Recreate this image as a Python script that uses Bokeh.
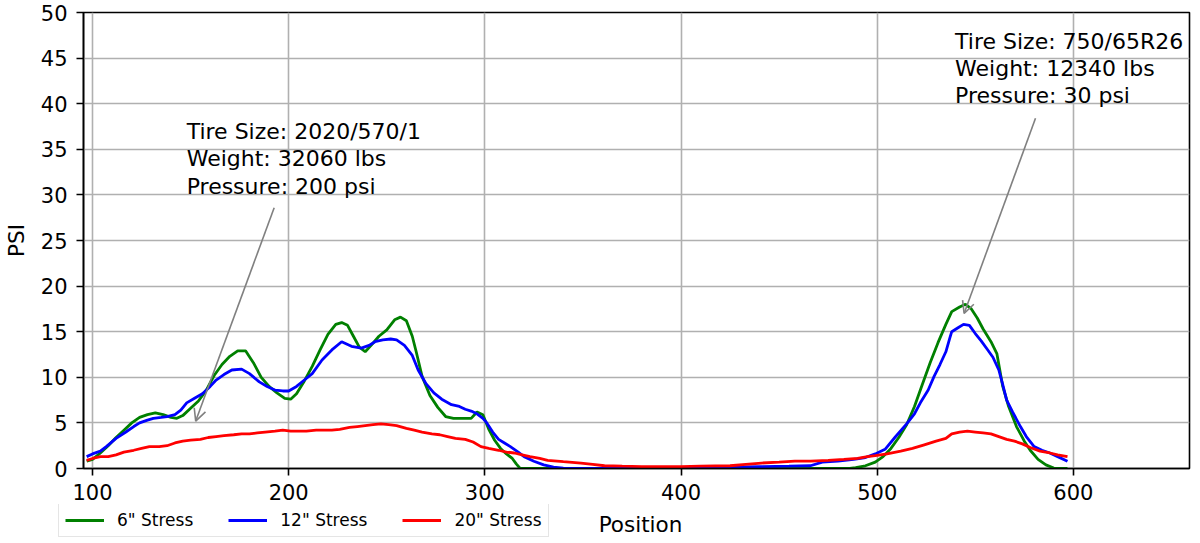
from bokeh.plotting import figure
from bokeh.models import ColumnDataSource, Legend, LegendItem, FixedTicker, Arrow, OpenHead, Range1d, Label
from bokeh.core.properties import value
from bokeh.embed import file_html
from bokeh.resources import INLINE

# ---- data ----
x6 = [97, 100, 104, 108, 112, 116, 120, 124, 128, 132, 136, 140, 143, 146, 150, 154, 158, 162, 166, 170,
      174, 178, 182, 186, 190, 194, 198, 201, 204, 208, 212, 216, 220, 224, 227, 230, 233, 236, 239, 242,
      246, 250, 254, 257, 260, 263, 265, 268, 272, 276, 280, 284, 288, 293, 296, 299, 302, 305, 308, 311,
      314, 316, 318, 330, 360, 400, 440, 470, 486, 489, 494, 499, 503, 507, 511, 515, 519, 523, 527, 531,
      535, 538, 542, 545, 548, 551, 554, 558, 561, 564, 567, 571, 575, 578, 582, 586, 590, 594, 597]
y6 = [0.8, 1.0, 1.7, 2.5, 3.4, 4.2, 5.0, 5.6, 5.9, 6.1, 5.9, 5.6, 5.5, 5.8, 6.6, 7.4, 8.6, 10.2, 11.4, 12.3,
      12.9, 12.9, 11.6, 10.0, 9.0, 8.3, 7.7, 7.6, 8.2, 9.6, 11.2, 13.0, 14.7, 15.8, 16.0, 15.7, 14.5, 13.3, 12.8, 13.5,
      14.5, 15.2, 16.3, 16.6, 16.2, 14.5, 12.8, 10.1, 8.0, 6.7, 5.7, 5.5, 5.5, 5.5, 6.2, 5.9, 4.3, 3.1, 2.2, 1.6,
      1.1, 0.5, 0.0, 0.0, 0.0, 0.0, 0.0, 0.0, 0.0, 0.1, 0.3, 0.7, 1.3, 2.2, 3.4, 4.8, 6.8, 9.2, 11.6, 13.8,
      15.8, 17.2, 17.7, 18.0, 17.5, 16.5, 15.3, 13.9, 12.6, 9.0, 6.8, 4.6, 3.0, 2.0, 1.0, 0.4, 0.05, 0.0, 0.0]

x12 = [97, 100, 104, 107, 112, 117, 121, 124, 128, 131, 135, 138, 142, 145, 148, 152, 156, 160, 163, 167,
       171, 176, 180, 185, 189, 193, 197, 200, 204, 208, 212, 217, 222, 227, 232, 237, 241, 244, 248, 252,
       255, 259, 263, 266, 270, 274, 278, 283, 287, 290, 293, 296, 299, 301, 304, 307, 310, 313, 317, 320,
       325, 330, 335, 340, 350, 380, 410, 425, 440, 455, 466, 472, 480, 488, 494, 499, 504, 509, 515, 519,
       522, 526, 529, 532, 535, 537, 538, 541, 544, 547, 550, 553, 556, 559, 562, 564, 566, 569, 573, 576,
       580, 584, 588, 592, 597]
y12 = [1.3, 1.6, 1.9, 2.4, 3.3, 4.0, 4.6, 5.0, 5.3, 5.5, 5.6, 5.7, 5.9, 6.4, 7.2, 7.7, 8.2, 9.0, 9.7, 10.3,
       10.8, 10.9, 10.4, 9.5, 9.0, 8.6, 8.5, 8.5, 9.0, 9.7, 10.4, 11.9, 13.0, 13.9, 13.4, 13.2, 13.5, 13.9, 14.1, 14.2,
       14.1, 13.5, 12.4, 10.8, 9.3, 8.3, 7.6, 7.0, 6.8, 6.5, 6.3, 6.0, 5.5, 5.0, 4.0, 3.2, 2.8, 2.4, 1.8, 1.3,
       0.8, 0.4, 0.15, 0.05, 0.0, 0.0, 0.05, 0.15, 0.2, 0.25, 0.3, 0.7, 0.8, 1.0, 1.2, 1.6, 2.1, 3.4, 4.9, 6.0,
       7.2, 8.6, 10.1, 11.4, 12.8, 14.3, 15.0, 15.4, 15.8, 15.7, 14.8, 14.0, 13.1, 12.2, 10.8, 9.2, 7.5, 6.2, 4.6, 3.5,
       2.4, 2.0, 1.7, 1.3, 0.8]

x20 = [97, 100, 104, 108, 112, 116, 121, 125, 129, 134, 138, 142, 146, 150, 155, 159, 163, 167, 172, 176,
       180, 184, 188, 193, 197, 201, 205, 209, 214, 218, 222, 226, 231, 235, 239, 243, 247, 251, 255, 260,
       264, 268, 273, 277, 281, 285, 290, 294, 298, 302, 307, 311, 315, 319, 323, 328, 332, 340, 349, 355,
       361, 370, 380, 391, 400, 410, 425, 433, 441, 450, 458, 466, 475, 483, 490, 495, 499, 505, 512, 518,
       524, 530, 535, 538, 542, 546, 550, 554, 558, 562, 566, 570, 574, 578, 583, 588, 592, 597]
y20 = [0.9, 1.1, 1.3, 1.3, 1.5, 1.8, 2.0, 2.2, 2.4, 2.4, 2.5, 2.8, 3.0, 3.1, 3.2, 3.4, 3.5, 3.6, 3.7, 3.8,
       3.8, 3.9, 4.0, 4.1, 4.2, 4.1, 4.1, 4.1, 4.2, 4.2, 4.2, 4.3, 4.5, 4.6, 4.7, 4.8, 4.9, 4.8, 4.7, 4.4,
       4.2, 4.0, 3.8, 3.7, 3.5, 3.3, 3.2, 2.9, 2.4, 2.2, 2.0, 1.8, 1.7, 1.5, 1.3, 1.1, 0.9, 0.75, 0.6, 0.45,
       0.3, 0.25, 0.2, 0.2, 0.2, 0.25, 0.3, 0.45, 0.6, 0.7, 0.8, 0.8, 0.9, 1.0, 1.1, 1.3, 1.4, 1.6, 1.9, 2.2,
       2.6, 3.0, 3.3, 3.8, 4.0, 4.1, 4.0, 3.9, 3.8, 3.5, 3.2, 3.0, 2.7, 2.3, 1.9, 1.7, 1.5, 1.3]

series_labels = ['6" Stress', '12" Stress', '20" Stress']
series_colors = ["green", "blue", "red"]

x_ticks = [100, 200, 300, 400, 500, 600]
y_ticks = [0, 5, 10, 15, 20, 25, 30, 35, 40, 45, 50]

note1_lines = ["Tire Size: 2020/570/1", "Weight: 32060 lbs", "Pressure: 200 psi"]
note2_lines = ["Tire Size: 750/65R26", "Weight: 12340 lbs", "Pressure: 30 psi"]

FONT = "DejaVu Sans"
W = 1192
H_MAIN = 504
H_LEG = 38

p = figure(width=W, height=H_MAIN, output_backend="svg", toolbar_location=None,
           x_range=Range1d(95.4, 659.2), y_range=Range1d(0, 50),
           min_border_left=75, min_border_right=3, min_border_top=12, min_border_bottom=36)

p.outline_line_color = "black"
p.outline_line_width = 1.6
p.background_fill_color = "white"

for ax in (p.xaxis[0], p.yaxis[0]):
    ax.axis_line_width = 1.6
    ax.axis_line_color = "black"
    ax.major_tick_line_width = 1.6
    ax.major_tick_line_color = "black"
    ax.major_tick_out = 7
    ax.major_tick_in = 0
    ax.minor_tick_out = 0
    ax.minor_tick_in = 0
    ax.major_label_text_font = FONT
    ax.major_label_text_font_size = "21px"
    ax.major_label_text_color = "black"
    ax.axis_label_text_font = FONT
    ax.axis_label_text_font_size = "21.5px"
    ax.axis_label_text_font_style = "normal"
    ax.axis_label_text_color = "black"

p.xaxis.ticker = FixedTicker(ticks=x_ticks)
p.yaxis.ticker = FixedTicker(ticks=y_ticks)
p.yaxis.axis_label = "PSI"
p.xaxis.major_label_standoff = 8
p.xaxis.axis_label_standoff = 0
p.yaxis.major_label_standoff = 9
p.yaxis.axis_label_standoff = 9

p.xgrid.ticker = FixedTicker(ticks=x_ticks)
p.ygrid.ticker = FixedTicker(ticks=y_ticks)
for g in (p.xgrid[0], p.ygrid[0]):
    g.grid_line_color = "#b0b0b0"
    g.grid_line_width = 1.6

for xs, ys, c in ((x6, y6, series_colors[0]), (x12, y12, series_colors[1]), (x20, y20, series_colors[2])):
    src = ColumnDataSource(dict(x=xs, y=ys))
    p.line("x", "y", source=src, line_color=c, line_width=2.8)

# annotations
n1_x = [148.0] * 3
n1_y = [36.95, 33.95, 30.95]
n2_x = [539.7] * 3
n2_y = [46.8, 43.85, 40.9]
for xs, ys, lines in ((n1_x, n1_y, note1_lines), (n2_x, n2_y, note2_lines)):
    src = ColumnDataSource(dict(x=xs, y=ys, t=lines))
    p.text("x", "y", text="t", source=src, text_font=value(FONT), text_font_size="22px",
           text_baseline="middle", text_align="left", text_color="black")

for xs_, ys_, xe, ye in ((192.6, 28.6, 152.6, 5.2), (580.7, 38.4, 544.3, 17.0)):
    p.add_layout(Arrow(end=OpenHead(size=12, line_color="gray", line_width=1.6),
                       x_start=xs_, y_start=ys_, x_end=xe, y_end=ye,
                       line_color="gray", line_width=1.6))

# ---- bottom strip: legend + x-axis title (separate root, no frame alignment) ----
p2 = figure(width=W, height=H_LEG, output_backend="svg", toolbar_location=None,
            x_range=Range1d(0, W), y_range=Range1d(0, H_LEG),
            x_axis_type=None, y_axis_type=None, min_border=0)
p2.outline_line_color = None
p2.background_fill_color = "white"

# legend-only line renderers (kept outside the visible range of this strip)
leg_renderers = [p2.line(x=[-20, -10], y=[-20, -20], line_color=c, line_width=2.8) for c in series_colors]
legend = Legend(items=[LegendItem(label=lab, renderers=[r]) for lab, r in zip(series_labels, leg_renderers)],
                orientation="horizontal", location=(58, 5),
                label_text_font=FONT, label_text_font_size="17px", label_text_color="black",
                glyph_width=39, glyph_height=20, label_standoff=13, spacing=35,
                padding=6, margin=0,
                border_line_color="#cccccc", border_line_width=1.2,
                background_fill_color="white", background_fill_alpha=1.0)
p2.add_layout(legend, "center")

p2.add_layout(Label(x=640, y=18, x_units="screen", y_units="screen", text="Position",
                    text_font=FONT, text_font_size="21.5px", text_align="center",
                    text_baseline="middle", text_color="black"))

open("out.html", "w").write(file_html([p, p2], INLINE))
